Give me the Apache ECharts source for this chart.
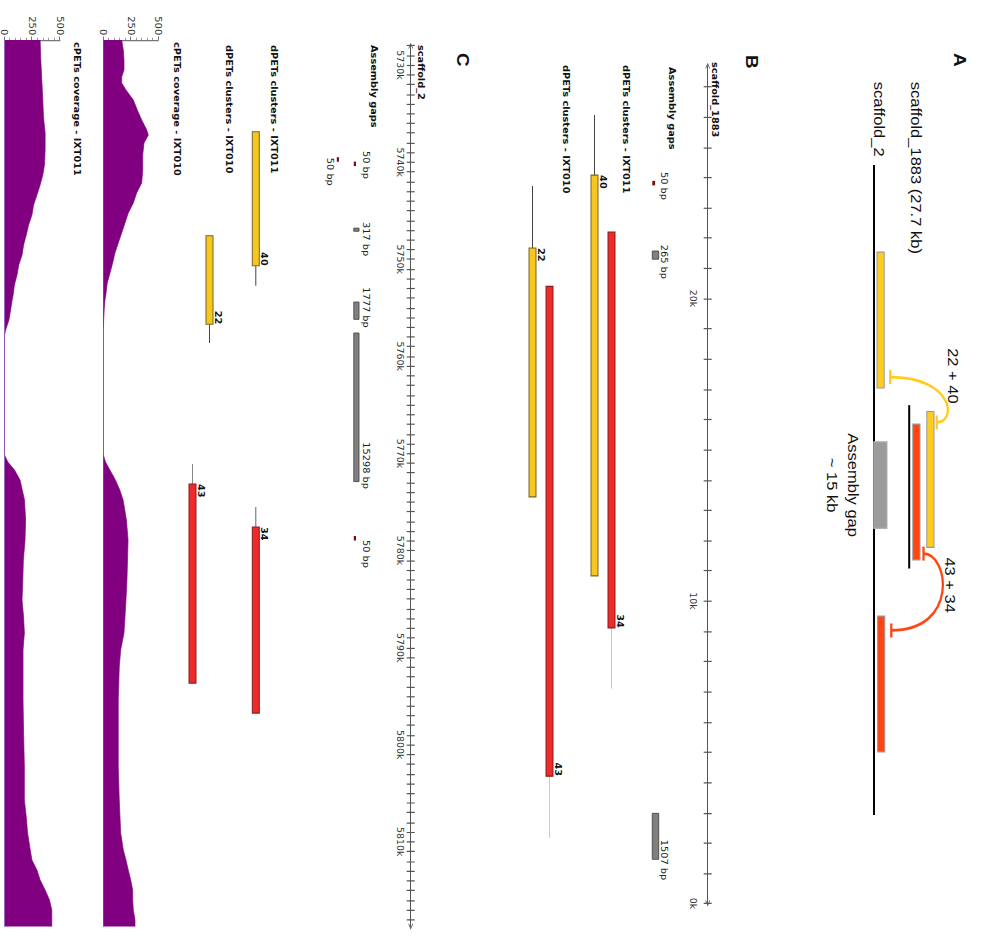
<!DOCTYPE html>
<html>
<head>
<meta charset="utf-8">
<title>scaffold_1883 / scaffold_2</title>
<script src="https://cdn.jsdelivr.net/npm/echarts@6/dist/echarts.min.js"></script>
<style>
  html, body { margin:0; padding:0; background:#fff; width:987px; height:948px; overflow:hidden; }
  #wrap { position:absolute; left:0; top:0; height:987px; transform-origin:0 0; }
  #chart { height:987px; }
</style>
</head>
<body>
<div id="wrap"><div id="chart"></div></div>
<script>
// ================= DATA =================
// Panel A – schematic, kb along the drawing of scaffold_2
const aScaffold2 = [0, 113.4];
const aScaffold1883 = [41.9, 70.4];
const aGap = [48.3, 63.4];
const aGapText = ['Assembly gap', '~ 15 kb'];
const aClusterStart = [15.2, 78.7, 45.2, 43.0];
const aClusterEnd = [38.9, 102.4, 68.9, 66.7];
const aClusterKind = ['yellow', 'red', 'red', 'yellow'];
const aLinkFrom = [37.0, 67.8];
const aLinkTo = [44.9, 81.2];
const aLinkText = ['22 + 40', '43 + 34'];
const aLinkTextAt = [36.8, 73.3];
const aLinkKind = ['yellow', 'red'];

// Panel B – scaffold_1883 (kb)
const bTicks = Array.from({length: 28}, (_, i) => i);
const bTickLabels = [0, 10, 20];
const bGapStart = [23.75, 21.30, 1.46];
const bGapEnd = [23.88, 21.57, 2.98];
const bGapBp = [50, 265, 1507];
const bGapLabelAt = [23.72, 21.21, 1.44];
// [start, end, tail end, dPET count]; first yellow, second red
const bIXT011 = [[10.83, 24.08, 26.07, 40], [9.11, 22.20, 7.11, 34]];
const bIXT010 = [[13.44, 21.67, 23.72, 22], [4.21, 20.40, 2.17, 43]];

// Panel C – scaffold_2 (kb)
const cTicks = Array.from({length: 91}, (_, i) => 5728 + i);
const cTickLabels = [5730, 5740, 5750, 5760, 5770, 5780, 5790, 5800, 5810];
const cGapStart = [5740.15, 5739.70, 5746.80, 5754.41, 5757.60, 5778.71];
const cGapEnd = [5740.20, 5739.75, 5747.12, 5756.19, 5772.90, 5778.76];
const cGapBp = [50, 50, 317, 1777, 15298, 50];
const cGapRow = [0, 1, 0, 0, 0, 0];
const cGapLabelAt = [5740.30, 5741.00, 5747.92, 5754.97, 5771.25, 5780.36];
const cIXT011 = [[5736.87, 5750.67, 5752.73, 40], [5777.58, 5796.74, 5775.52, 34]];
const cIXT010 = [[5747.58, 5756.70, 5758.63, 22], [5773.15, 5793.65, 5771.09, 43]];

// cPETs coverage [position kb, coverage]
const cov010 = [[5727.43,167],[5728.46,182],[5729.49,188],[5730.51,188],[5731.24,167],[5731.85,167],[5732.57,206],[5733.60,273],[5734.63,309],[5735.66,349],[5736.69,395],[5737.21,409],[5738.03,370],[5739.27,358],[5740.81,358],[5742.15,349],[5743.18,303],[5744.21,273],[5745.24,227],[5746.27,197],[5747.30,167],[5748.33,136],[5749.36,106],[5750.39,85],[5751.42,61],[5752.45,36],[5753.48,25],[5754.20,15],[5755.23,8],[5756.26,3],[5757.29,0],[5770.16,0],[5770.89,20],[5771.71,60],[5772.74,110],[5773.77,150],[5774.80,180],[5776.86,210],[5778.92,225],[5780.98,220],[5783.04,215],[5785.10,206],[5786.85,197],[5788.50,188],[5790.25,158],[5792.00,145],[5795.40,136],[5798.80,136],[5802.30,136],[5805.70,145],[5809.09,158],[5810.84,182],[5811.87,206],[5812.90,227],[5813.93,249],[5814.96,267],[5815.99,267],[5817.02,273],[5818.05,288],[5818.74,288]];
const cov011 = [[5727.43,321],[5729.49,327],[5731.54,336],[5733.60,345],[5735.36,351],[5737.00,366],[5738.75,366],[5740.30,360],[5741.33,345],[5742.36,321],[5743.39,292],[5744.42,262],[5745.45,247],[5746.48,217],[5747.51,196],[5748.54,172],[5749.57,158],[5750.60,128],[5751.63,113],[5752.66,89],[5753.69,78],[5754.20,69],[5755.23,55],[5756.26,40],[5757.29,10],[5757.81,0],[5770.16,0],[5770.89,30],[5771.71,90],[5772.74,140],[5774.80,180],[5776.86,190],[5778.92,185],[5780.98,170],[5783.04,165],[5785.10,158],[5786.85,172],[5788.50,179],[5790.25,167],[5795.40,167],[5798.80,172],[5802.30,179],[5805.70,179],[5807.45,196],[5809.09,208],[5810.84,232],[5811.87,247],[5812.90,292],[5813.93,321],[5814.96,366],[5815.99,405],[5817.02,426],[5818.05,426],[5818.74,426]];

// ================= LAYOUT / STYLE =================
const S = 1.18;                 // the picture is stretched along the genome axis
const X = v => v / S;           // along-axis pixel -> drawing pixel
const DW = Math.ceil(948 / S);
const wrap = document.getElementById('wrap');
wrap.style.width = DW + 'px';
wrap.style.transform = `translate(987px,0) rotate(90deg) scale(${S},1)`;
document.getElementById('chart').style.width = DW + 'px';

const FA = '"Liberation Sans", Arial, sans-serif';
const FD = '"DejaVu Sans", sans-serif';
const LB = 'bold 8.3px ' + FD;
const aColor = {yellow: '#ffcc22', red: '#ff4612'};
const cFill = {yellow: '#f7c61f', red: '#ee2a2a'};
const cStroke = {yellow: '#7a6526', red: '#8b1c1c'};
const kinds = ['yellow', 'red'];
const chev = 'path://M0,10L5,0L10,10L8.4,10L5,3.2L1.6,10Z';

const A_L = {
  lineY: [113, 77.8],
  barTop: [102.8, 102.2, 67, 53], barH: 7.2,
  gapTop: 100, gapBottom: 113.2,
  link: [{y0: 96.8, y3: 50.3, c1: 33, c2: 30, ty: 34}, {y0: 63.5, y3: 95.7, c1: 38, c2: 28, ty: 37}]
};

function gapRenderer(start, end, bp, labelAt, row, L) {
  return (p, api) => {
    const i = p.dataIndex, cy = p.coordSys.y;
    const a = api.coord([start[i], 0])[0], b = api.coord([end[i], 0])[0];
    const r = row ? row[i] : 0;
    const top = cy + L.rowTop[r];
    const ch = [];
    if (bp[i] < 100) {
      const ww = Math.max(Math.abs(b - a), X(4.5));
      ch.push({type: 'rect', shape: {x: (a + b) / 2 - ww / 2, y: top + L.h - L.smallH, width: ww, height: L.smallH}, style: {fill: '#7a0c0c'}});
    } else {
      ch.push({type: 'rect', shape: {x: Math.min(a, b), y: top, width: Math.abs(b - a), height: L.h}, style: {fill: '#808080', stroke: '#444', lineWidth: 0.8}});
    }
    const lx = api.coord([labelAt[i], 0])[0];
    ch.push({type: 'text', x: lx, y: cy + L.labelY[r], style: {text: bp[i] + ' bp', font: '8.3px ' + FD, fill: '#222', align: 'center', verticalAlign: 'middle'}});
    return {type: 'group', children: ch};
  };
}

function clusterRenderer(clusters, rowTop, tailCol) {
  return (p, api) => {
    const i = p.dataIndex, cy = p.coordSys.y, c = clusters[i];
    const a = api.coord([c[0], 0])[0], b = api.coord([c[1], 0])[0], t = api.coord([c[2], 0])[0];
    const x0 = Math.min(a, b), x1 = Math.max(a, b);
    const y = cy + rowTop[i], h = 7, k = kinds[i];
    const left = t < x0;
    return {type: 'group', children: [
      {type: 'line', shape: {x1: left ? t : x1, y1: y + h / 2, x2: left ? x0 : t, y2: y + h / 2}, style: {stroke: tailCol[i], lineWidth: 1}},
      {type: 'rect', shape: {x: x0, y: y, width: x1 - x0, height: h}, style: {fill: cFill[k], stroke: cStroke[k], lineWidth: 1}},
      {type: 'text', x: left ? x0 : x1, y: y - 0.5, style: {text: String(c[3]), font: 'bold 8.3px ' + FD, fill: '#111', align: left ? 'left' : 'right', verticalAlign: 'bottom'}}
    ]};
  };
}

const rows = arr => arr.map(d => [d[0], d[1], 0]);
const pairs = (s, e) => s.map((v, i) => [v, e[i], 0]);

function genomeAxes(grid, min, max, inverse, ticks, labels, margin) {
  const common = {gridIndex: grid, type: 'value', position: 'top', min, max, inverse, splitLine: {show: false}};
  return [
    Object.assign({}, common, {
      axisLine: {show: true, onZero: false, symbol: [chev, chev], symbolSize: [7, 5], lineStyle: {color: '#555', width: 1}},
      axisTick: {show: true, length: 4, customValues: ticks, lineStyle: {color: '#555', width: 1}},
      axisLabel: {show: false}
    }),
    Object.assign({}, common, {
      axisLine: {show: false, onZero: false},
      axisTick: {show: true, inside: true, length: 4, customValues: ticks, lineStyle: {color: '#555', width: 1}},
      axisLabel: {show: true, inside: true, customValues: labels, formatter: v => v + 'k', margin, fontSize: 8, fontFamily: 'DejaVu Sans', color: '#333'}
    })
  ];
}

const covX = grid => ({gridIndex: grid, type: 'value', position: 'bottom', min: 5727.43, max: 5818.74,
  axisLine: {show: true, onZero: false, lineStyle: {color: '#a3ace6', width: 1}}, axisTick: {show: false}, axisLabel: {show: false}, splitLine: {show: false}});
const covY = grid => ({gridIndex: grid, type: 'value', min: 0, max: 500, interval: 250, position: 'left',
  axisLine: {show: true, lineStyle: {color: '#777'}}, axisTick: {show: true, length: 3, lineStyle: {color: '#777'}},
  minorTick: {show: true, splitNumber: 5, length: 2, lineStyle: {color: '#999'}},
  axisLabel: {fontSize: 8.5, fontFamily: 'DejaVu Sans', color: '#333', margin: 4}, splitLine: {show: false}});
const hiddenY = grid => ({gridIndex: grid, type: 'value', min: 0, max: 1, show: false});

const text = (t, x, y, font, align) => ({type: 'text', x, y, silent: true,
  style: {text: t, font, fill: '#111', align: align || 'left', verticalAlign: 'middle'}});

const option = {
  animation: false,
  backgroundColor: '#fff',
  grid: [
    {left: X(165), top: 0, width: X(650), height: 200},
    {left: X(65.6), top: 279.3, width: X(837.9), height: 200},
    {left: X(45.6), top: 576.3, width: X(881.1), height: 240},
    {left: X(40), top: 828.7, width: X(886.6), height: 55},
    {left: X(40), top: 927, width: X(886.6), height: 56}
  ],
  xAxis: [
    {gridIndex: 0, type: 'value', min: 0, max: 113.4, show: false},
    ...genomeAxes(1, 0, 27.7, true, bTicks, bTickLabels, 11),
    ...genomeAxes(2, 5728, 5818.74, false, cTicks, cTickLabels, 7),
    covX(3), covX(4)
  ],
  yAxis: [hiddenY(0), hiddenY(1), hiddenY(2), covY(3), covY(4)],
  graphic: {elements: [
    text('A', X(53), 28, 'bold 16px ' + FA),
    text('scaffold_1883 (27.7 kb)', X(81.7), 71, '14px ' + FA),
    text('scaffold_2', X(81.7), 107.7, '14px ' + FA),
    text('B', X(55), 236, 'bold 16px ' + FA),
    text('scaffold_1883', X(62), 272, LB),
    text('Assembly gaps', X(67), 315.5, LB),
    text('dPETs clusters - IXT011', X(65), 361, LB),
    text('dPETs clusters - IXT010', X(65), 421, LB),
    text('C', X(53), 525, 'bold 16px ' + FA),
    text('scaffold_2', X(45), 566, LB),
    text('Assembly gaps', X(45), 613.5, LB),
    text('dPETs clusters - IXT011', X(45), 713.5, LB),
    text('dPETs clusters - IXT010', X(45), 758.5, LB),
    text('cPETs coverage - IXT010', X(42), 810.5, LB),
    text('cPETs coverage - IXT011', X(42), 910.5, LB)
  ]},
  series: [
    // ---- Panel A ----
    {type: 'custom', xAxisIndex: 0, yAxisIndex: 0, silent: true, encode: {x: [0, 1], y: 2},
      data: [[aScaffold2[0], aScaffold2[1], 0], [aScaffold1883[0], aScaffold1883[1], 0]],
      renderItem: (p, api) => {
        const y = p.coordSys.y + A_L.lineY[p.dataIndex];
        const x0 = api.coord([api.value(0), 0])[0], x1 = api.coord([api.value(1), 0])[0];
        return {type: 'line', shape: {x1: x0, y1: y, x2: x1, y2: y}, style: {stroke: '#000', lineWidth: 2}};
      }},
    {type: 'custom', xAxisIndex: 0, yAxisIndex: 0, silent: true, encode: {x: [0, 1], y: 2},
      data: [[aGap[0], aGap[1], 0]],
      renderItem: (p, api) => {
        const cy = p.coordSys.y;
        const x0 = api.coord([api.value(0), 0])[0], x1 = api.coord([api.value(1), 0])[0];
        const xm = (x0 + x1) / 2;
        return {type: 'group', children: [
          {type: 'rect', shape: {x: x0, y: cy + A_L.gapTop, width: x1 - x0, height: A_L.gapBottom - A_L.gapTop}, style: {fill: '#9b9b9b', stroke: '#b0b0b0', lineWidth: 1}},
          {type: 'text', x: xm, y: cy + 133.5, style: {text: aGapText[0], font: '14px ' + FA, fill: '#111', align: 'center', verticalAlign: 'middle'}},
          {type: 'text', x: xm, y: cy + 155, style: {text: aGapText[1], font: '14px ' + FA, fill: '#111', align: 'center', verticalAlign: 'middle'}}
        ]};
      }},
    {type: 'custom', xAxisIndex: 0, yAxisIndex: 0, silent: true, encode: {x: [0, 1], y: 2},
      data: pairs(aClusterStart, aClusterEnd),
      renderItem: (p, api) => {
        const i = p.dataIndex, cy = p.coordSys.y;
        const x0 = api.coord([api.value(0), 0])[0], x1 = api.coord([api.value(1), 0])[0];
        return {type: 'rect', shape: {x: x0, y: cy + A_L.barTop[i], width: x1 - x0, height: A_L.barH},
          style: {fill: aColor[aClusterKind[i]], stroke: '#9a9a9a', lineWidth: 1}};
      }},
    {type: 'custom', xAxisIndex: 0, yAxisIndex: 0, silent: true, encode: {x: [0, 1], y: 2},
      data: pairs(aLinkFrom, aLinkTo),
      renderItem: (p, api) => {
        const i = p.dataIndex, cy = p.coordSys.y, L = A_L.link[i];
        const x0 = api.coord([api.value(0), 0])[0], x3 = api.coord([api.value(1), 0])[0];
        const col = aColor[aLinkKind[i]], cap = X(7);
        const tx = api.coord([aLinkTextAt[i], 0])[0];
        return {type: 'group', children: [
          {type: 'bezierCurve', shape: {x1: x0, y1: cy + L.y0, cpx1: x0, cpy1: cy + L.c1, cpx2: x3, cpy2: cy + L.c2, x2: x3, y2: cy + L.y3}, style: {stroke: col, lineWidth: 2.3, fill: 'none'}},
          {type: 'line', shape: {x1: x0 - cap, y1: cy + L.y0, x2: x0 + cap, y2: cy + L.y0}, style: {stroke: col, lineWidth: 2.3}},
          {type: 'line', shape: {x1: x3 - cap, y1: cy + L.y3, x2: x3 + cap, y2: cy + L.y3}, style: {stroke: col, lineWidth: 2.3}},
          {type: 'text', x: tx, y: cy + L.ty, style: {text: aLinkText[i], font: '14px ' + FA, fill: '#111', align: 'center', verticalAlign: 'middle'}}
        ]};
      }},
    // ---- Panel B ----
    {type: 'custom', xAxisIndex: 2, yAxisIndex: 1, silent: true, encode: {x: [0, 1], y: 2},
      data: pairs(bGapStart, bGapEnd),
      renderItem: gapRenderer(bGapStart, bGapEnd, bGapBp, bGapLabelAt, null, {rowTop: [49], h: 6.4, smallH: 2.8, labelY: [43.7]})},
    {type: 'custom', xAxisIndex: 2, yAxisIndex: 1, silent: true, encode: {x: [0, 1], y: 2},
      data: rows(bIXT011), renderItem: clusterRenderer(bIXT011, [109.7, 92.7], ['#444', '#c8c8c8'])},
    {type: 'custom', xAxisIndex: 2, yAxisIndex: 1, silent: true, encode: {x: [0, 1], y: 2},
      data: rows(bIXT010), renderItem: clusterRenderer(bIXT010, [171.7, 154.7], ['#444', '#c8c8c8'])},
    // ---- Panel C ----
    {type: 'custom', xAxisIndex: 4, yAxisIndex: 2, silent: true, encode: {x: [0, 1], y: 2},
      data: pairs(cGapStart, cGapEnd),
      renderItem: gapRenderer(cGapStart, cGapEnd, cGapBp, cGapLabelAt, cGapRow, {rowTop: [51.7, 68.7], h: 5.2, smallH: 2.2, labelY: [45.2, 80.7]})},
    {type: 'custom', xAxisIndex: 4, yAxisIndex: 2, silent: true, encode: {x: [0, 1], y: 2},
      data: rows(cIXT011), renderItem: clusterRenderer(cIXT011, [151.4, 151.4], ['#444', '#666'])},
    {type: 'custom', xAxisIndex: 4, yAxisIndex: 2, silent: true, encode: {x: [0, 1], y: 2},
      data: rows(cIXT010), renderItem: clusterRenderer(cIXT010, [197.7, 214.7], ['#444', '#888'])},
    // ---- coverage ----
    {type: 'line', xAxisIndex: 5, yAxisIndex: 3, data: cov010, symbol: 'none', silent: true,
      lineStyle: {width: 0.6, color: '#800080'}, areaStyle: {color: '#800080', opacity: 1}},
    {type: 'line', xAxisIndex: 6, yAxisIndex: 4, data: cov011, symbol: 'none', silent: true,
      lineStyle: {width: 0.6, color: '#800080'}, areaStyle: {color: '#800080', opacity: 1}}
  ]
};

const chart = echarts.init(document.getElementById('chart'), null, {renderer: 'svg', width: DW, height: 987});
chart.setOption(option);
</script>
</body>
</html>
